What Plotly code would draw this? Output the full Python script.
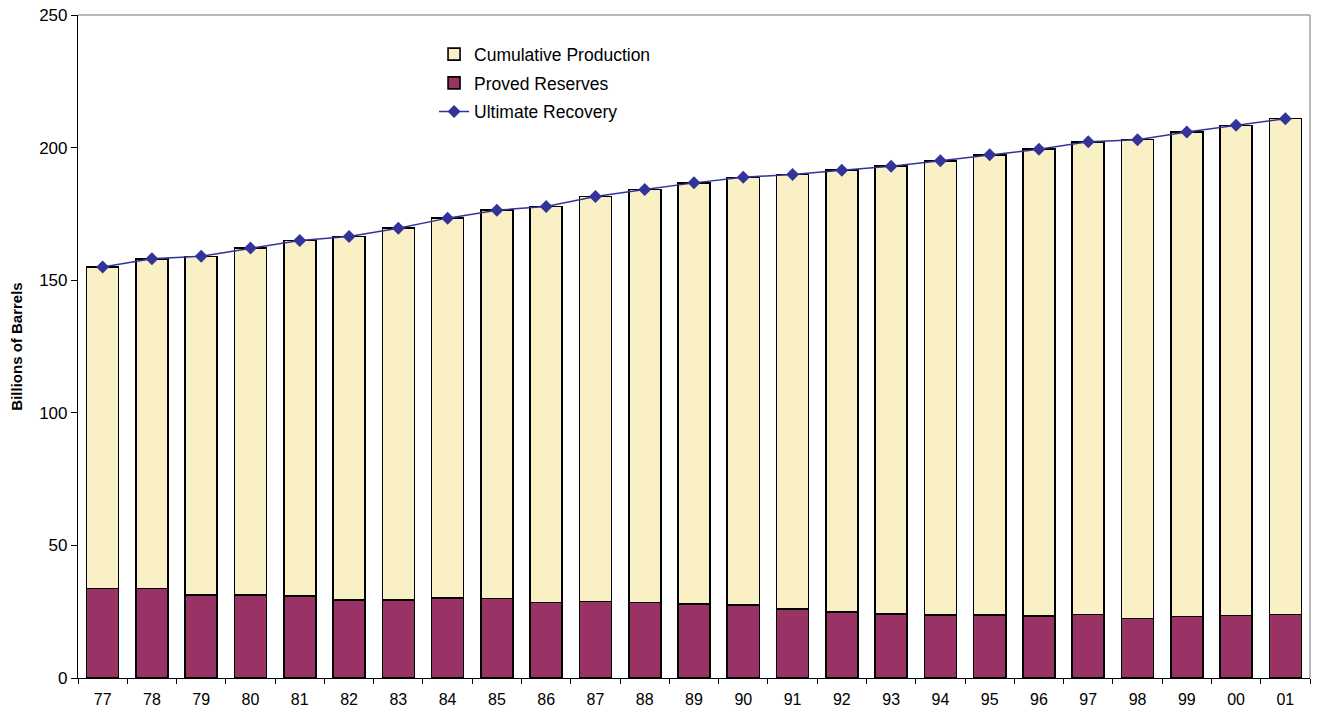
import plotly.graph_objects as go

years = ["77", "78", "79", "80", "81", "82", "83", "84", "85", "86", "87", "88", "89",
         "90", "91", "92", "93", "94", "95", "96", "97", "98", "99", "00", "01"]

proved_reserves = [33.8, 33.7, 31.4, 31.4, 31.0, 29.5, 29.4, 30.1, 30.0, 28.4, 28.8, 28.4, 28.0,
                   27.6, 26.0, 25.0, 24.2, 23.7, 23.7, 23.4, 24.0, 22.5, 23.2, 23.6, 23.9]

cumulative_production = [121.2, 124.4, 127.6, 130.7, 134.0, 137.0, 140.2, 143.3, 146.4, 149.4, 152.8, 155.8, 158.7,
                         161.2, 163.9, 166.5, 168.8, 171.3, 173.6, 176.0, 178.2, 180.5, 182.7, 184.8, 187.0]

ultimate_recovery = [155.0, 158.1, 159.0, 162.1, 165.0, 166.5, 169.6, 173.4, 176.4, 177.8, 181.6, 184.2, 186.7,
                     188.8, 189.9, 191.5, 193.0, 195.0, 197.3, 199.4, 202.2, 203.0, 205.9, 208.4, 210.9]

y_ticks = [0, 50, 100, 150, 200, 250]

fig = go.Figure()
fig.add_trace(go.Bar(
    x=years, y=proved_reserves, name="Proved Reserves",
    marker=dict(color="#993366", line=dict(color="#000000", width=1.6)),
    legendrank=2, legendgroup="b",
))
fig.add_trace(go.Bar(
    x=years, y=cumulative_production, name="Cumulative Production",
    marker=dict(color="#F9F1C5", line=dict(color="#000000", width=1.6)),
    legendrank=1, legendgroup="a",
))
fig.add_trace(go.Scatter(
    x=years, y=ultimate_recovery, name="Ultimate Recovery", mode="lines+markers",
    line=dict(color="#333399", width=1.5),
    marker=dict(symbol="diamond", size=10, color="#333399"),
    legendrank=3, legendgroup="c",
))

fig.update_layout(
    width=1319, height=712,
    barmode="stack", bargap=0.35,
    plot_bgcolor="white", paper_bgcolor="white",
    margin=dict(l=78, r=9, t=15, b=34, autoexpand=False),
    font=dict(family="Liberation Sans, Arial, sans-serif", size=17, color="#000000"),
    showlegend=True,
    legend=dict(x=0.289, y=0.968, xanchor="left", yanchor="top",
                bgcolor="rgba(0,0,0,0)", font=dict(size=17.5), tracegroupgap=3,
                traceorder="grouped"),
    xaxis=dict(
        type="category", range=[-0.5, 24.5], automargin=False,
        showline=True, linecolor="#000000", linewidth=1.2,
        ticks="outside", tickson="boundaries", ticklen=5, tickcolor="#000000",
        showgrid=False, tickfont=dict(size=16), ticklabelstandoff=7,
        ticklabeloverflow="allow",
    ),
    yaxis=dict(
        range=[0, 250], tickvals=y_ticks, automargin=False,
        showline=True, linecolor="#000000", linewidth=1.2,
        ticks="outside", ticklen=6, tickcolor="#000000", showgrid=False, zeroline=False,
        tickfont=dict(size=17), ticklabeloverflow="allow",
        title=dict(text="<b>Billions of Barrels</b>", font=dict(size=15), standoff=12),
    ),
    shapes=[
        dict(type="line", xref="paper", yref="paper", x0=0, x1=1, y0=1, y1=1,
             line=dict(color="#A0A0A0", width=1.5)),
        dict(type="line", xref="paper", yref="paper", x0=1, x1=1, y0=0, y1=1,
             line=dict(color="#A0A0A0", width=1.5)),
    ],
)

fig.write_html("out.html",
               config={"displayModeBar": False},
               post_script="document.body.style.margin='0';document.body.style.overflow='hidden';")
